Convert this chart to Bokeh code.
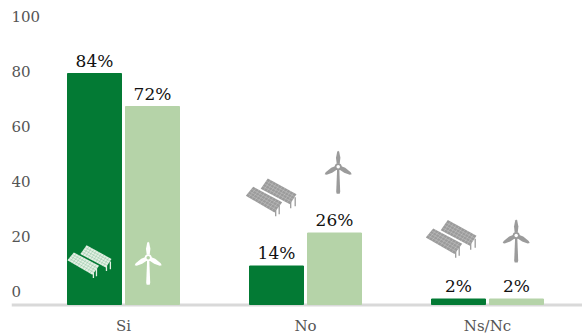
from bokeh.embed import file_html
from bokeh.resources import INLINE
from bokeh.plotting import figure
from bokeh.models import ColumnDataSource, Range1d, Span
from bokeh.core.properties import value

categories = ["Si", "No", "Ns/Nc"]
solar = [84, 14, 2]
wind = [72, 26, 2]
y_ticks = [0, 20, 40, 60, 80, 100]

DARK = "#037a34"
LIGHT = "#b5d3a8"
GREY = "#9b9b9b"
FONT = "DejaVu Serif"

# Plot geometry: pixels per category step and per percentage point
PX_X = 182.0
PX_Y = 2.75
LEFT = 11
X0 = 123  # pixel centre of the first group
Y0 = 304  # pixel position of value 0

p = figure(width=582, height=333, output_backend="svg", toolbar_location=None,
           x_range=Range1d((LEFT - X0) / PX_X, (582 - X0) / PX_X),
           y_range=Range1d((Y0 - 333) / PX_Y, Y0 / PX_Y),
           min_border_left=LEFT, min_border_right=0, min_border_top=0, min_border_bottom=0)
p.outline_line_color = None
p.grid.visible = False
p.axis.visible = False

xs = list(range(len(categories)))
bar_w = 54 / PX_X
shift = 29 / PX_X


def px(x, y):
    """Convert pixel positions in the page to data coordinates."""
    return (x - X0) / PX_X, (Y0 - y) / PX_Y


# Baseline under the bars
p.add_layout(Span(location=(Y0 - 304.5) / PX_Y, dimension="width", line_color="#d9d9d9",
                  line_width=3, level="underlay"))

solar_src = ColumnDataSource(dict(x=[i - shift for i in xs], top=solar, t=[f"{v}%" for v in solar]))
wind_src = ColumnDataSource(dict(x=[i + shift for i in xs], top=wind, t=[f"{v}%" for v in wind]))
p.vbar(x="x", top="top", bottom=0, width=bar_w, color=DARK, source=solar_src)
p.vbar(x="x", top="top", bottom=0, width=bar_w, color=LIGHT, source=wind_src)
for src in (solar_src, wind_src):
    p.text(x="x", y="top", text="t", source=src, text_align="center", text_baseline="bottom",
           y_offset=-3, text_color="#111111", text_font=value(FONT), text_font_size="17px")

# Value-axis labels sit above their positions, flush with the left edge
tick_src = ColumnDataSource(dict(x=[p.x_range.start] * len(y_ticks), y=y_ticks, t=[str(v) for v in y_ticks]))
p.text(x="x", y="y", text="t", source=tick_src, text_align="left", text_baseline="middle",
       y_offset=-13, text_color="#555555", text_font=value(FONT), text_font_size="15px")

# Category labels below the baseline
cat_src = ColumnDataSource(dict(x=xs, y=[0] * len(xs), t=categories))
p.text(x="x", y="y", text="t", source=cat_src, text_align="center", text_baseline="middle",
       y_offset=21, text_line_height=1.0, text_color="#555555", text_font=value(FONT), text_font_size="15px")

# Pictograms, described in pixels around an anchor
PANEL_A = [(-25.4, -1.4), (-18, -10.4), (11, 5), (3.3, 15.3)]
PANEL_B = [(-10.5, -8.5), (-3.4, -18.7), (25.3, -3), (18.7, 7)]
LEGS = [(4.5, 10, 4.5, 19), (8, 8, 8, 17), (19.5, 3, 19.5, 11), (24, 0, 24, 9)]


def lerp(a, b, t):
    return a[0] + (b[0] - a[0]) * t, a[1] + (b[1] - a[1]) * t


def draw_panels(cx, cy, scale, fill, grid):
    for x1, y1, x2, y2 in LEGS:
        a = px(cx + x1 * scale, cy + y1 * scale)
        b = px(cx + x2 * scale, cy + y2 * scale)
        p.line([a[0], b[0]], [a[1], b[1]], line_color=fill, line_width=1.3)
    for q in (PANEL_A, PANEL_B):
        pts = [px(cx + a * scale, cy + b * scale) for a, b in q]
        p.patch([c[0] for c in pts], [c[1] for c in pts], fill_color=fill, line_color=None)
        seg = []
        for k in range(1, 4):
            seg.append((lerp(pts[0], pts[1], k / 4), lerp(pts[3], pts[2], k / 4)))
        for k in range(1, 10):
            seg.append((lerp(pts[1], pts[2], k / 10), lerp(pts[0], pts[3], k / 10)))
        p.segment([s[0][0] for s in seg], [s[0][1] for s in seg], [s[1][0] for s in seg], [s[1][1] for s in seg],
                  line_color=grid, line_width=0.4)


def draw_turbine(cx, cy, fill, hub):
    shapes = [
        [(-1, 0), (1, 0), (2, 25), (1.5, 27), (-1.5, 27), (-2, 25)],
        [(-1.5, -3), (-2.2, -9), (-1, -15), (0, -16), (1, -15), (2.2, -9), (1.5, -3)],
        [(-2, -1), (-7, 1), (-12.5, 5.5), (-13.5, 7.5), (-11.5, 8), (-6, 6), (0, 2)],
        [(2, -1), (7, 1), (12.5, 5.5), (13.5, 7.5), (11.5, 8), (6, 6), (0, 2)],
    ]
    for s in shapes:
        pts = [px(cx + a, cy + b) for a, b in s]
        p.patch([c[0] for c in pts], [c[1] for c in pts], fill_color=fill, line_color=None)
    c = px(cx, cy)
    p.scatter([c[0]], [c[1]], size=7, fill_color=fill, line_color=None)
    p.scatter([c[0]], [c[1]], size=3.5, fill_color=hub, line_color=None)


draw_panels(89, 261, 0.87, "#e4f0e4", "#7fbb94")
draw_turbine(147.7, 257.3, "#ffffff", LIGHT)
draw_panels(270.7, 196.7, 1, GREY, "#cfcfcf")
draw_turbine(337.7, 166.3, GREY, "#ffffff")
draw_panels(450.7, 238.3, 1, GREY, "#cfcfcf")
draw_turbine(515.7, 235, GREY, "#ffffff")

open("out.html", "w").write(file_html(p, INLINE))
